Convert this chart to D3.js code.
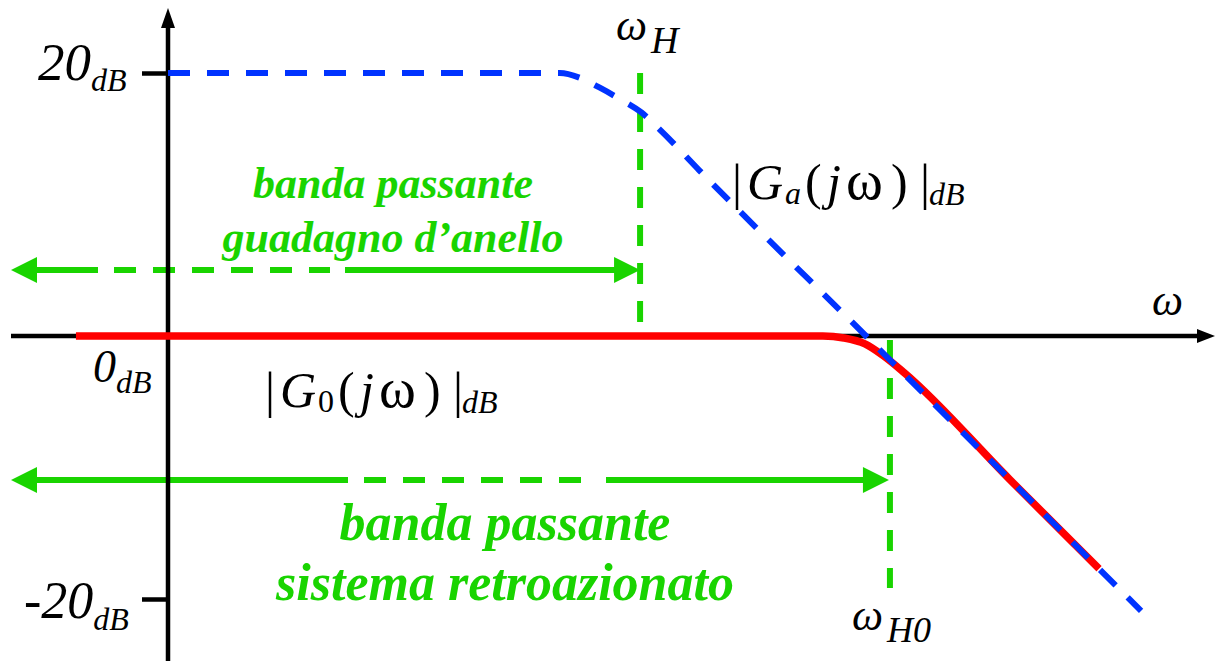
<!DOCTYPE html>
<html>
<head>
<meta charset="utf-8">
<script src="https://cdn.jsdelivr.net/npm/d3@7"></script>
<style>
  html, body { margin: 0; padding: 0; background: #fff; }
  svg { display: block; }
</style>
</head>
<body>
<div id="chart"></div>
<script>
// values: x in decades of omega, y in dB
var tickDB = [20, 0, -20];
var tickText = ["20", "0", "-20"];

// |Ga(jw)| loop gain (blue dashed)
var gaLogW = [0, 1.49, 1.57, 1.64, 1.72, 1.80, 1.87, 2.02, 2.654, 3.2, 3.70];
var gaDB   = [20, 20, 19.6, 18.9, 18.0, 17.0, 15.7, 12.6, 0, -10.9, -20.9];

// |G0(jw)| closed loop (red)
var g0LogW = [-0.35, 2.49, 2.57, 2.65, 2.72, 2.80, 3.2, 3.54];
var g0DB   = [0, 0, -0.15, -0.6, -1.5, -2.8, -10.9, -17.7];

var omegaH = 1.795, omegaH0 = 2.745;
var bandLoop = ["banda passante", "guadagno d\u2019anello"];
var bandClosed = ["banda passante", "sistema retroazionato"];

var W = 1215, H = 661;
var blue = "#0033ff", red = "#ff0000", green = "#19d400";
var FONT = "'Liberation Serif', 'DejaVu Serif', serif";

var svg = d3.select("#chart").append("svg")
  .attr("width", W).attr("height", H)
  .attr("font-family", FONT);

var x = d3.scaleLinear().domain([0, 4]).range([168, 1220]);
var y = d3.scaleLinear().domain([20, -20]).range([73, 599]);

var line = d3.line()
  .x(function(d) { return x(d[0]); })
  .y(function(d) { return y(d[1]); })
  .curve(d3.curveMonotoneX);

function arrowHead(g, tx, ty, dir, len, half, color) {
  var pts;
  if (dir === "l") pts = [[tx, ty], [tx + len, ty - half], [tx + len, ty + half]];
  else if (dir === "r") pts = [[tx, ty], [tx - len, ty - half], [tx - len, ty + half]];
  else pts = [[tx, ty], [tx - half, ty + len], [tx + half, ty + len]];
  g.append("polygon").attr("points", pts.map(function(p) { return p.join(","); }).join(" "))
    .attr("fill", color);
}

// green band arrows (under the axes)
var arrows = svg.append("g");
function bandArrow(yy, xEnd, dashFrom, dashTo, solidFrom) {
  var sw = 6;
  arrows.append("line").attr("x1", 30).attr("x2", dashFrom).attr("y1", yy).attr("y2", yy)
    .attr("stroke", green).attr("stroke-width", sw);
  arrows.append("line").attr("x1", dashFrom + 16).attr("x2", dashTo).attr("y1", yy).attr("y2", yy)
    .attr("stroke", green).attr("stroke-width", sw).attr("stroke-dasharray", "22,17");
  arrows.append("line").attr("x1", solidFrom).attr("x2", xEnd - 22).attr("y1", yy).attr("y2", yy)
    .attr("stroke", green).attr("stroke-width", sw);
  arrowHead(arrows, 11, yy, "l", 26, 13, green);
  arrowHead(arrows, xEnd, yy, "r", 26, 13, green);
}
bandArrow(270, x(omegaH), 98, 330, 345);
bandArrow(480, x(omegaH0) - 1, 348, 598, 606);

// axes
var axes = svg.append("g");
axes.append("line").attr("x1", 11).attr("x2", 1200).attr("y1", y(0)).attr("y2", y(0))
  .attr("stroke", "#000").attr("stroke-width", 4.5);
arrowHead(axes, 1215, y(0), "r", 18, 7, "#000");
axes.append("line").attr("x1", x(0)).attr("x2", x(0)).attr("y1", H).attr("y2", 24)
  .attr("stroke", "#000").attr("stroke-width", 4.5);
arrowHead(axes, x(0), 8, "u", 20, 7, "#000");

var yAxis = d3.axisLeft(y).tickValues([tickDB[0], tickDB[2]]).tickSize(26).tickFormat(function() { return ""; });
var ya = axes.append("g").attr("transform", "translate(" + x(0) + ",0)").call(yAxis);
ya.select(".domain").remove();
ya.selectAll(".tick line").attr("stroke", "#000").attr("stroke-width", 4.5);

// tick labels with dB subscripts
var tickPos = [{x: 38, mainSize: 53, subDy: 11}, {x: 93, mainSize: 46, subDy: 11}, {x: 24, mainSize: 52, subDy: 12}];
var tickBase = [80, 382, 618];
tickDB.forEach(function(v, i) {
  var t = svg.append("text").attr("x", tickPos[i].x).attr("y", tickBase[i])
    .attr("font-family", FONT)
    .attr("font-style", "italic").attr("font-size", tickPos[i].mainSize).attr("fill", "#000");
  t.append("tspan").text(tickText[i]);
  t.append("tspan").attr("dy", tickPos[i].subDy).attr("font-size", 32).text("dB");
});

// green vertical markers
var vert = svg.append("g");
vert.append("line").attr("x1", x(omegaH)).attr("x2", x(omegaH)).attr("y1", 73).attr("y2", 326)
  .attr("stroke", green).attr("stroke-width", 6).attr("stroke-dasharray", "21,17");
vert.append("line").attr("x1", x(omegaH0)).attr("x2", x(omegaH0)).attr("y1", 340).attr("y2", 588)
  .attr("stroke", green).attr("stroke-width", 6).attr("stroke-dasharray", "21,17");

// curves
svg.append("path").datum(d3.zip(g0LogW, g0DB)).attr("d", line)
  .attr("fill", "none").attr("stroke", red).attr("stroke-width", 7.5);
svg.append("path").datum(d3.zip(gaLogW, gaDB)).attr("d", line)
  .attr("fill", "none").attr("stroke", blue).attr("stroke-width", 6).attr("stroke-dasharray", "22,17");

// omega labels
function omegaLabel(x0, yb, sub, subSize, subX, subDy) {
  var t = svg.append("text").attr("x", x0).attr("y", yb).attr("font-style", "italic")
    .attr("font-family", FONT).attr("font-size", 44).attr("fill", "#000");
  t.append("tspan").text("\u03c9");
  if (sub) t.append("tspan").attr("x", subX).attr("dy", subDy).attr("font-size", subSize).text(sub);
}
omegaLabel(616, 40, "H", 38, 651, 13);
omegaLabel(852, 630, "H0", 36, 887, 12);
omegaLabel(1152, 315, null);

// |G(jw)|dB labels
function gLabel(x0, yb, sub) {
  var g = svg.append("g").attr("transform", "translate(" + x0 + "," + yb + ")").attr("fill", "#000");
  function put(dx, dy, s, size, italic) {
    g.append("text").attr("x", dx).attr("y", dy).attr("font-size", size)
      .attr("font-family", FONT)
      .attr("font-style", italic ? "italic" : "normal").text(s);
  }
  put(0, 0, "|", 50, false);
  put(15, 0, "G", 50, true);
  put(53, 5, sub, 32, sub !== "0");
  put(73, 0, "(", 50, false);
  put(95, 0, "j", 50, true);
  put(114, 0, "\u03c9", 56, false);
  put(159, 0, ")", 50, false);
  put(188, 0, "|", 50, false);
  put(197, 6, "dB", 32, true);
}
gLabel(265, 407, "0");
gLabel(732, 199, "a");

// green band captions
function caption(cx, lines, bases, size) {
  lines.forEach(function(s, i) {
    svg.append("text").attr("x", cx).attr("y", bases[i]).attr("text-anchor", "middle")
      .attr("font-family", FONT)
      .attr("font-size", size).attr("font-weight", "bold").attr("font-style", "italic")
      .attr("fill", green).text(s);
  });
}
caption(393, bandLoop, [198, 252], 44);
caption(505, bandClosed, [540, 600], 52);
</script>
</body>
</html>
